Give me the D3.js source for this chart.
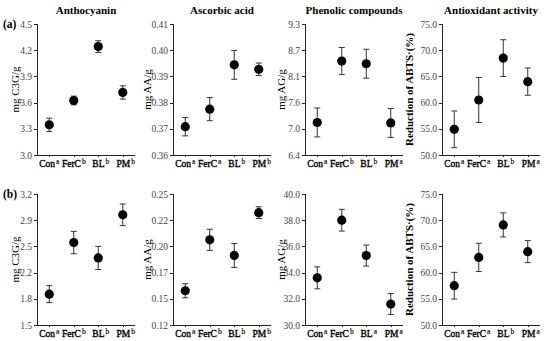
<!DOCTYPE html>
<html lang="en">
<head>
<meta charset="UTF-8">
<title>Fruit quality panels</title>
<script src="https://d3js.org/d3.v7.min.js"></script>
<style>
  body { margin: 0; background: white; }
  svg text { font-family: "Liberation Serif", "DejaVu Serif", serif; }
  .axis path, .axis line { stroke: #222; stroke-width: 1px; shape-rendering: crispEdges; }
  .axis text { font-size: 9.5px; fill: #444; }
  .title { font-size: 11px; font-weight: bold; }
  .ylab { font-size: 11px; }
  .cat { font-size: 9.5px; stroke: #000; stroke-width: 0.35px; }
</style>
</head>
<body>
<svg id="chart" width="550" height="341"></svg>
<script>
// categories and significance letters
var categories = ["Con", "FerC", "BL", "PM"];
var titles = ["Anthocyanin", "Ascorbic acid", "Phenolic compounds", "Antioxidant activity"];
var yLabels = ["mg C3G/g", "mg AA/g", "mg AG/g", "Reduction of ABTS\u00b7(%)"];
var rowNames = ["(a)", "(b)"];

// row (a)
var anthA = [3.346, 3.624, 4.241, 3.716];
var anthAErr = [0.076, 0.05, 0.067, 0.076];
var anthALetters = ["a", "b", "b", "b"];
var anthATicks = ["3.0", "3.3", "3.6", "3.9", "4.2", "4.5"];
var ascA = [0.3708, 0.3775, 0.3944, 0.3927];
var ascAErr = [0.0035, 0.0044, 0.0055, 0.0024];
var ascALetters = ["a", "a", "b", "b"];
var ascATicks = ["0.36", "0.37", "0.38", "0.39", "0.40", "0.41"];
var phenA = [7.12, 8.48, 8.42, 7.11];
var phenAErr = [0.32, 0.30, 0.32, 0.32];
var phenALetters = ["a", "b", "b", "a"];
var phenATicks = ["6.4", "7.0", "7.6", "8.1", "8.7", "9.3"];
var antiA = [54.9, 60.5, 68.5, 64.0];
var antiAErr = [3.5, 4.3, 3.5, 2.6];
var antiALetters = ["a", "a", "b", "a"];
var antiATicks = ["50.0", "55.0", "60.0", "65.0", "70.0", "75.0"];

// row (b)
var anthB = [1.90, 2.57, 2.37, 2.93];
var anthBErr = [0.11, 0.145, 0.15, 0.14];
var anthBLetters = ["a", "b", "b", "b"];
var anthBTicks = ["1.5", "1.8", "2.2", "2.5", "2.9", "3.2"];
var ascB = [0.154, 0.2045, 0.189, 0.2315];
var ascBErr = [0.007, 0.0105, 0.0118, 0.0058];
var ascBLetters = ["a", "b", "b", "b"];
var ascBTicks = ["0.12", "0.15", "0.17", "0.20", "0.22", "0.25"];
var phenB = [33.6, 38.0, 35.3, 31.6];
var phenBErr = [0.84, 0.83, 0.8, 0.8];
var phenBLetters = ["a", "b", "a", "a"];
var phenBTicks = ["30.0", "32.0", "34.0", "36.0", "38.0", "40.0"];
var antiB = [57.5, 62.9, 69.1, 64.0];
var antiBErr = [2.55, 2.7, 2.3, 2.1];
var antiBLetters = ["a", "a", "b", "a"];
var antiBTicks = ["50.0", "55.0", "60.0", "65.0", "70.0", "75.0"];

var domains = [[3.0, 4.5], [0.36, 0.41], [6.4, 9.3], [50, 75],
               [1.5, 3.2], [0.12, 0.25], [30, 40], [50, 75]];

var panels = [
  [anthA, anthAErr, anthALetters, anthATicks], [ascA, ascAErr, ascALetters, ascATicks],
  [phenA, phenAErr, phenALetters, phenATicks], [antiA, antiAErr, antiALetters, antiATicks],
  [anthB, anthBErr, anthBLetters, anthBTicks], [ascB, ascBErr, ascBLetters, ascBTicks],
  [phenB, phenBErr, phenBLetters, phenBTicks], [antiB, antiBErr, antiBLetters, antiBTicks]
];

var colX = [37, 173, 305, 442];
var rowTop = [24, 194];
var plotW = 98, plotH = 131;
var yLabX = [19, 151, 285, 413];
var catShift = [0, 0, 2.5, 3];

var svg = d3.select("#chart");

rowNames.forEach(function(r, i) {
  svg.append("text").attr("x", 3).attr("y", rowTop[i] + 4)
    .style("font-size", "11.5px").style("font-weight", "bold").text(r);
});

panels.forEach(function(p, k) {
  var row = Math.floor(k / 4), col = k % 4;
  var g = svg.append("g").attr("transform", "translate(" + colX[col] + "," + rowTop[row] + ")");
  var dom = domains[k];
  var y = d3.scaleLinear().domain(dom).range([plotH, 0]);
  var x = d3.scalePoint().domain(categories).range([0, plotW]).padding(0.5);
  var tickVals = p[3].map(function(t, i) { return dom[0] + i * (dom[1] - dom[0]) / (p[3].length - 1); });

  g.append("g").attr("class", "axis")
    .call(d3.axisLeft(y).tickValues(tickVals).tickSize(3).tickPadding(2)
      .tickFormat(function(d, i) { return p[3][i]; }));
  g.append("g").attr("class", "axis").attr("transform", "translate(0," + plotH + ")")
    .call(d3.axisBottom(x).tickSize(2).tickFormat(""))
    .select(".domain").attr("d", "M0,0.5H" + plotW);

  if (row === 0) {
    g.append("text").attr("class", "title").attr("x", plotW / 2).attr("y", -10)
      .attr("text-anchor", "middle").text(titles[col]);
  }
  g.append("text").attr("class", "ylab")
    .attr("transform", "translate(" + (yLabX[col] - colX[col]) + "," + (plotH / 2) + ") rotate(-90)")
    .attr("text-anchor", "middle")
    .style("font-weight", col === 3 ? "bold" : "normal")
    .text(yLabels[col]);

  // category labels with superscripts
  categories.forEach(function(c, i) {
    var t = g.append("text").attr("class", "cat").attr("x", x(c) + catShift[i]).attr("y", plotH + 12)
      .attr("text-anchor", "middle");
    t.append("tspan").text(c);
    t.append("tspan").attr("dx", 1).attr("dy", -3.5).style("font-size", "7.5px")
      .style("stroke-width", "0.15px").text(p[2][i]);
  });

  // error bars
  var bars = g.selectAll(".eb").data(categories).enter().append("g").attr("class", "eb");
  bars.append("line")
    .attr("x1", function(d) { return x(d); }).attr("x2", function(d) { return x(d); })
    .attr("y1", function(d, i) { return y(p[0][i] - p[1][i]); })
    .attr("y2", function(d, i) { return y(p[0][i] + p[1][i]); })
    .attr("stroke", "#333").attr("stroke-width", 1);
  [-1, 1].forEach(function(s) {
    bars.append("line")
      .attr("x1", function(d) { return x(d) - 3; }).attr("x2", function(d) { return x(d) + 3; })
      .attr("y1", function(d, i) { return y(p[0][i] + s * p[1][i]); })
      .attr("y2", function(d, i) { return y(p[0][i] + s * p[1][i]); })
      .attr("stroke", "#333").attr("stroke-width", 1);
  });
  bars.append("circle")
    .attr("cx", function(d) { return x(d); })
    .attr("cy", function(d, i) { return y(p[0][i]); })
    .attr("r", 4.6).attr("fill", "black");
});
</script>
</body>
</html>
